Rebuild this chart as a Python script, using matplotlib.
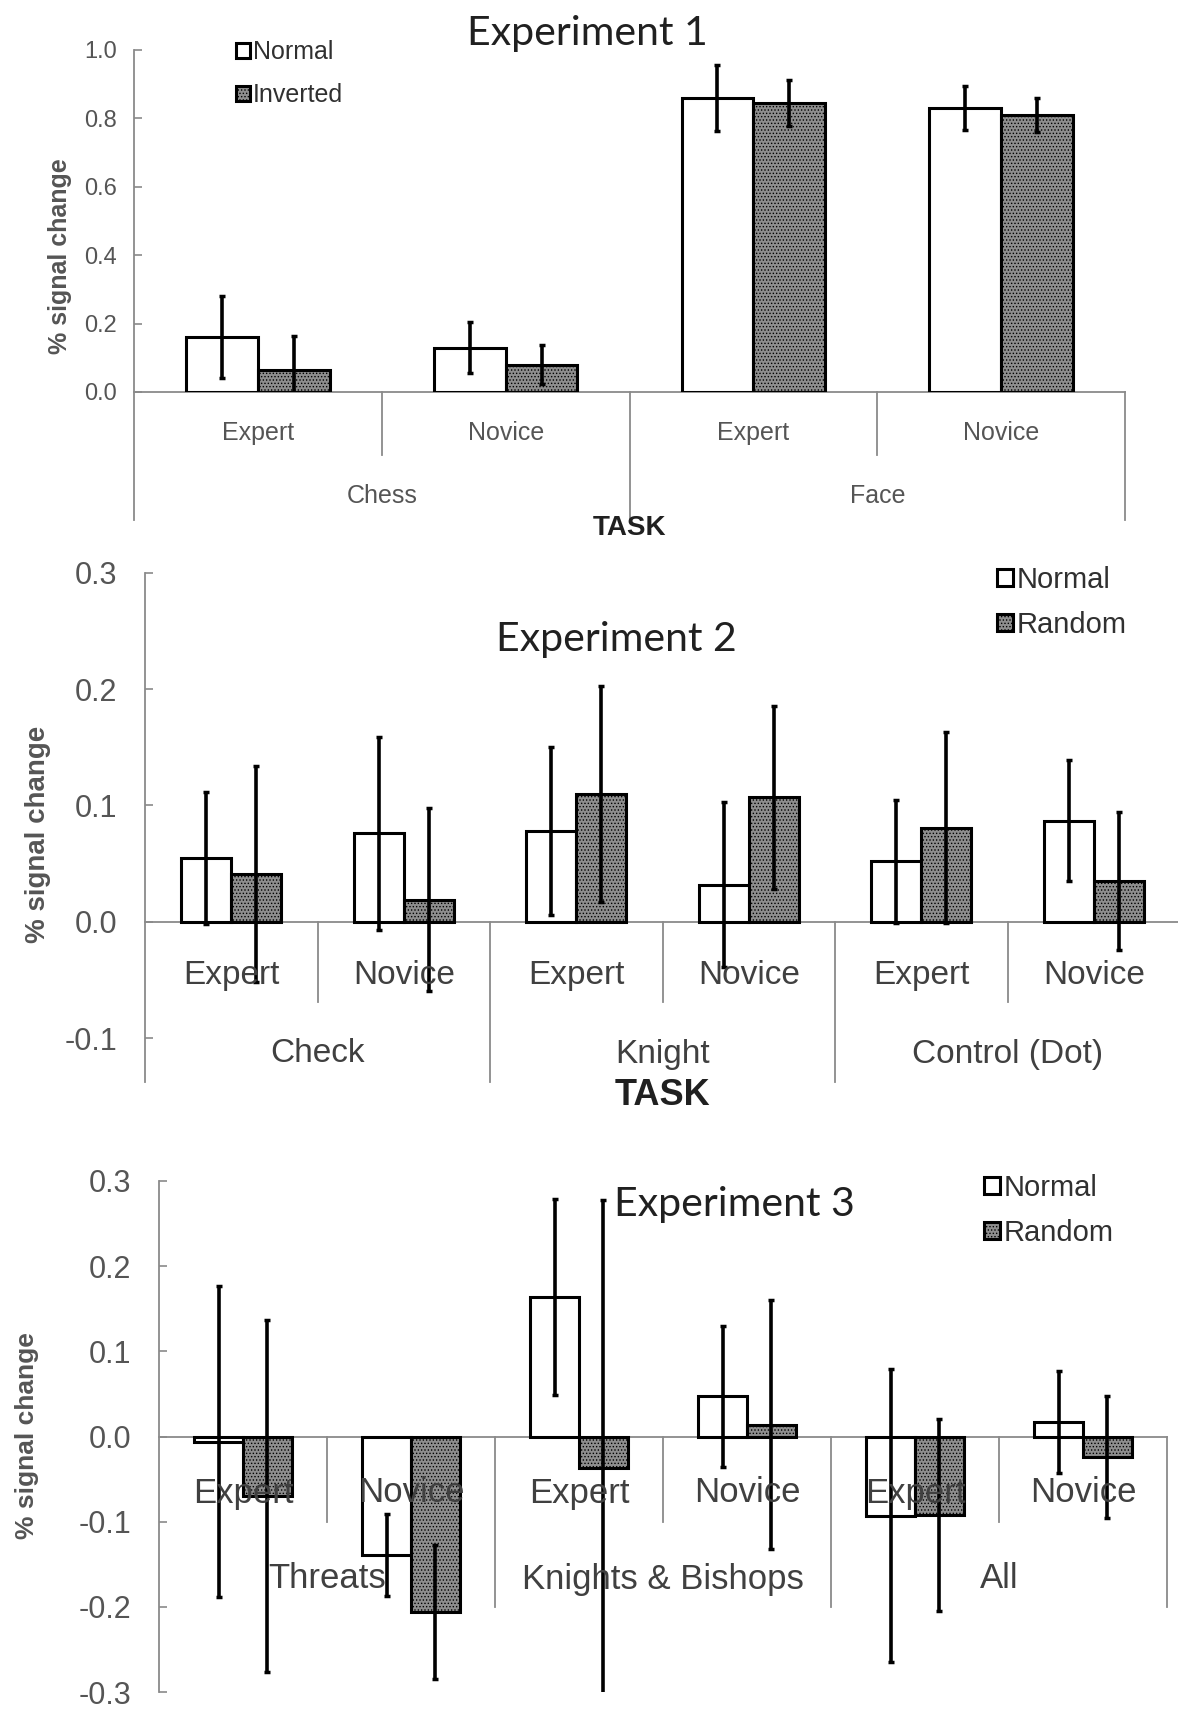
import matplotlib
matplotlib.use('Agg')
import matplotlib.pyplot as plt

plt.rcParams['font.family'] = ['Liberation Sans', 'DejaVu Sans']
plt.rcParams['hatch.linewidth'] = 0.6

W, H = 1178, 1710

# Experiment 1
exp1_groups = ['Chess', 'Face']
exp1_subs = ['Expert', 'Novice', 'Expert', 'Novice']
exp1_normal = [0.16, 0.13, 0.86, 0.83]
exp1_normal_err = [0.12, 0.075, 0.097, 0.065]
exp1_inverted = [0.065, 0.08, 0.845, 0.81]
exp1_inverted_err = [0.10, 0.057, 0.068, 0.05]

# Experiment 2
exp2_groups = ['Check', 'Knight', 'Control (Dot)']
exp2_subs = ['Expert', 'Novice', 'Expert', 'Novice', 'Expert', 'Novice']
exp2_normal = [0.055, 0.076, 0.078, 0.032, 0.052, 0.087]
exp2_normal_err = [0.057, 0.083, 0.072, 0.071, 0.053, 0.052]
exp2_random = [0.041, 0.019, 0.110, 0.107, 0.081, 0.035]
exp2_random_err = [0.093, 0.079, 0.093, 0.079, 0.082, 0.059]

# Experiment 3
exp3_groups = ['Threats', 'Knights & Bishops', 'All']
exp3_subs = ['Expert', 'Novice', 'Expert', 'Novice', 'Expert', 'Novice']
exp3_normal = [-0.006, -0.139, 0.164, 0.047, -0.093, 0.017]
exp3_normal_err = [0.183, 0.048, 0.115, 0.083, 0.172, 0.060]
exp3_random = [-0.070, -0.206, -0.037, 0.014, -0.092, -0.024]
exp3_random_err = [0.207, 0.079, 0.315, 0.146, 0.113, 0.072]

AXIS_GRAY = '#8a8a8a'
TEXT_GRAY = '#555555'
BAR_W = 0.29
TITLE_FONT = ['Lato', 'DejaVu Sans']

fig = plt.figure(figsize=(W / 100, H / 100), dpi=100)


def panel(x0, x1, ytop, ybot, ylim, yticks, subs, normal, nerr, other, oerr,
          other_name, tick_fs, tick_pad):
    ncat = len(subs)
    ax = fig.add_axes([x0 / W, 1 - ybot / H, (x1 - x0) / W, (ybot - ytop) / H])
    ax.set_xlim(0, ncat)
    ax.set_ylim(ylim)
    for s in ax.spines.values():
        s.set_visible(False)
    ax.set_xticks([])
    ax.set_yticks(yticks)
    ax.set_yticklabels(['{:.1f}'.format(v) for v in yticks])
    ax.tick_params(axis='y', direction='in', length=6, width=1.2,
                   color=AXIS_GRAY, labelsize=tick_fs, labelcolor=TEXT_GRAY, pad=tick_pad)

    def py(pix):
        return ylim[0] + (ybot - pix) / (ybot - ytop) * (ylim[1] - ylim[0])

    xs = [i + 0.5 for i in range(ncat)]
    xn = [x - BAR_W / 2 for x in xs]
    xo = [x + BAR_W / 2 for x in xs]
    b1 = ax.bar(xn, normal, BAR_W, color='white', edgecolor='black', linewidth=2.2,
                label='Normal', zorder=2)
    b2 = ax.bar(xo, other, BAR_W, color='#8e8e8e', edgecolor='black', linewidth=2.2,
                hatch='.....', label=other_name, zorder=2)
    ax.errorbar(xn, normal, yerr=nerr, fmt='none', ecolor='black', elinewidth=2.6,
                capsize=2.5, capthick=2.5, zorder=3)
    ax.errorbar(xo, other, yerr=oerr, fmt='none', ecolor='black', elinewidth=2.6,
                capsize=2.5, capthick=2.5, zorder=3)
    return ax, py, xs, (b1, b2)


def frame(ax, ncat, ytop_val, axis_bottom, inner_bottom, outer_bottom):
    ax.plot([0, 0], [ytop_val, axis_bottom], color=AXIS_GRAY, lw=1.3,
            clip_on=False, zorder=1)
    ax.plot([0, ncat], [0, 0], color=AXIS_GRAY, lw=1.3, clip_on=False, zorder=1)
    for k in range(1, ncat + 1):
        bottom = inner_bottom if k % 2 else outer_bottom
        ax.plot([k, k], [0, bottom], color=AXIS_GRAY, lw=1.3, clip_on=False, zorder=1)


def legend(ax, handles, labels, x, y, fs, spacing):
    leg = ax.legend(handles, labels, loc='upper left', bbox_to_anchor=(x / W, 1 - y / H),
                    bbox_transform=fig.transFigure, frameon=False, fontsize=fs,
                    handlelength=0.55, handleheight=0.55, handletextpad=0.12,
                    labelspacing=spacing, borderpad=0, borderaxespad=0)
    for t in leg.get_texts():
        t.set_color('#303030')


# ---------- Experiment 1 ----------
ax1, py1, xs1, h1 = panel(134, 1125, 50, 392, (0, 1.0), [0, 0.2, 0.4, 0.6, 0.8, 1.0],
                          exp1_subs, exp1_normal, exp1_normal_err,
                          exp1_inverted, exp1_inverted_err, 'Inverted', 17, 12)
frame(ax1, 4, 1.0, py1(520), py1(455), py1(520))
for x, s in zip(xs1, exp1_subs):
    ax1.text(x, py1(433), s, ha='center', va='center', fontsize=18, color=TEXT_GRAY,
             clip_on=False)
for i, g in enumerate(exp1_groups):
    ax1.text(2 * i + 1, py1(496), g, ha='center', va='center', fontsize=18,
             color=TEXT_GRAY, clip_on=False)
ax1.text(2, py1(528), 'TASK', ha='center', va='center', fontsize=20, fontweight='bold',
         color='#202020', clip_on=False)
fig.text(60 / W, 1 - 256 / H, '% signal change', rotation=90, ha='center', va='center',
         fontsize=18, fontweight='bold', color=TEXT_GRAY)
fig.text(587 / W, 1 - 33 / H, 'Experiment 1', ha='center', va='center', fontsize=29.5,
         family=TITLE_FONT, color='#202020')
legend(ax1, h1, ['Normal', 'Inverted'], 236, 40, 18, 0.78)

# ---------- Experiment 2 ----------
ax2, py2, xs2, h2 = panel(145, 1180, 573, 1038, (-0.1, 0.3), [-0.1, 0.0, 0.1, 0.2, 0.3],
                          exp2_subs, exp2_normal, exp2_normal_err,
                          exp2_random, exp2_random_err, 'Random', 22, 20)
frame(ax2, 6, 0.3, py2(1082), py2(1002), py2(1082))
for x, s in zip(xs2, exp2_subs):
    ax2.text(x, py2(975), s, ha='center', va='center', fontsize=24, color='#404040',
             clip_on=False)
for i, g in enumerate(exp2_groups):
    ax2.text(2 * i + 1, py2(1054), g, ha='center', va='center', fontsize=24,
             color='#404040', clip_on=False)
ax2.text(3, py2(1095), 'TASK', ha='center', va='center', fontsize=26, fontweight='bold',
         color='#202020', clip_on=False)
fig.text(38 / W, 1 - 834 / H, '% signal change', rotation=90, ha='center', va='center',
         fontsize=20, fontweight='bold', color=TEXT_GRAY)
fig.text(616 / W, 1 - 639 / H, 'Experiment 2', ha='center', va='center', fontsize=29.5,
         family=TITLE_FONT, color='#202020')
legend(ax2, h2, ['Normal', 'Random'], 997, 566, 21, 0.58)

# ---------- Experiment 3 ----------
ax3, py3, xs3, h3 = panel(159, 1167, 1181, 1692, (-0.3, 0.3),
                          [-0.3, -0.2, -0.1, 0.0, 0.1, 0.2, 0.3],
                          exp3_subs, exp3_normal, exp3_normal_err,
                          exp3_random, exp3_random_err, 'Random', 22, 20)
frame(ax3, 6, 0.3, -0.3, -0.1, -0.2)
for x, s in zip(xs3, exp3_subs):
    ax3.text(x, py3(1493), s, ha='center', va='center', fontsize=25, color='#404040',
             clip_on=False, zorder=4)
for i, g in enumerate(exp3_groups):
    ax3.text(2 * i + 1, py3(1579), g, ha='center', va='center', fontsize=25,
             color='#404040', clip_on=False, zorder=4)
fig.text(27 / W, 1 - 1436 / H, '% signal change', rotation=90, ha='center', va='center',
         fontsize=19, fontweight='bold', color=TEXT_GRAY)
fig.text(614 / W, 1 - 1204 / H, 'Experiment 3', ha='left', va='center', fontsize=29.5,
         family=TITLE_FONT, color='#202020')
legend(ax3, h3, ['Normal', 'Random'], 984, 1174, 21, 0.58)

fig.savefig('out.png', dpi=100)
